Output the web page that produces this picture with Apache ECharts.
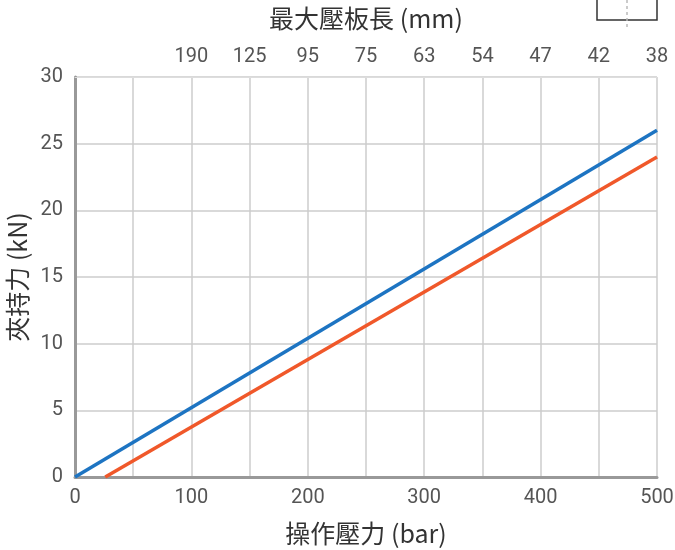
<!DOCTYPE html>
<html><head><meta charset="utf-8">
<script src="https://cdn.jsdelivr.net/npm/echarts@6/dist/echarts.min.js"></script>
<style>html,body{margin:0;padding:0;background:#fff}#c{width:675px;height:550px}</style>
</head><body><div id="c"></div>
<script>
const bluePoints = [[0, 0], [500, 26]];
const orangePoints = [[26, 0], [500, 24]];
const topTickValues = [100, 150, 200, 250, 300, 350, 400, 450, 500];
const topTickLabels = ['190', '125', '95', '75', '63', '54', '47', '42', '38'];
const xName = '操作壓力 (bar)';
const yName = '夾持力 (kN)';
const topName = '最大壓板長 (mm)';

const FONT = 'Roboto, "Noto Sans CJK TC", sans-serif';
const NFONT = '"Noto Sans CJK TC", Roboto, sans-serif';
const topMap = {};
topTickValues.forEach((v, i) => topMap[v] = topTickLabels[i]);

const chart = echarts.init(document.getElementById('c'));
chart.setOption({
  animation: false,
  grid: {left: 75, right: 18, top: 77, bottom: 73, containLabel: false, outerBoundsMode: 'none'},
  xAxis: [{
    type: 'value', min: 0, max: 500, interval: 50, position: 'bottom',
    name: xName, nameLocation: 'middle', nameGap: 44,
    nameTextStyle: {fontSize: 25, color: '#333', fontFamily: NFONT},
    axisLine: {lineStyle: {color: '#999', width: 3}},
    axisTick: {show: false},
    axisLabel: {fontSize: 20, color: '#555', fontFamily: FONT, margin: 11,
      formatter: v => (v % 100 === 0 ? String(v) : '')},
    splitLine: {show: true, lineStyle: {color: '#ccc', width: 1.5}}
  }, {
    type: 'value', min: 0, max: 500, interval: 50, position: 'top',
    name: topName, nameLocation: 'middle', nameGap: 46,
    nameTextStyle: {fontSize: 25, color: '#333', fontFamily: NFONT},
    axisLine: {show: true, lineStyle: {color: '#ddd', width: 1}},
    axisTick: {show: false},
    axisLabel: {fontSize: 20, color: '#555', fontFamily: FONT, margin: 10,
      formatter: v => topMap[v] || ''},
    splitLine: {show: false}
  }],
  yAxis: {
    type: 'value', min: 0, max: 30, interval: 5,
    name: yName, nameLocation: 'middle', nameGap: 39,
    nameTextStyle: {fontSize: 25, color: '#333', fontFamily: NFONT},
    axisLine: {show: true, lineStyle: {color: '#999', width: 3}},
    axisTick: {show: false},
    axisLabel: {fontSize: 20, color: '#555', fontFamily: FONT, margin: 12},
    splitLine: {show: true, lineStyle: {color: '#ccc', width: 1.5}}
  },
  graphic: [
    {type: 'rect', shape: {x: 597, y: -4, width: 60, height: 24},
     style: {fill: '#fff', stroke: '#333', lineWidth: 1.5}},
    {type: 'line', shape: {x1: 627, y1: 0, x2: 627, y2: 27},
     style: {stroke: '#bbb', lineWidth: 1.5, lineDash: [3, 3]}}
  ],
  series: [
    {type: 'line', data: bluePoints, showSymbol: false, lineStyle: {color: '#1d74c2', width: 3.5}, z: 3},
    {type: 'line', data: orangePoints, showSymbol: false, lineStyle: {color: '#f0582a', width: 3.5}, z: 3}
  ]
});
</script></body></html>
